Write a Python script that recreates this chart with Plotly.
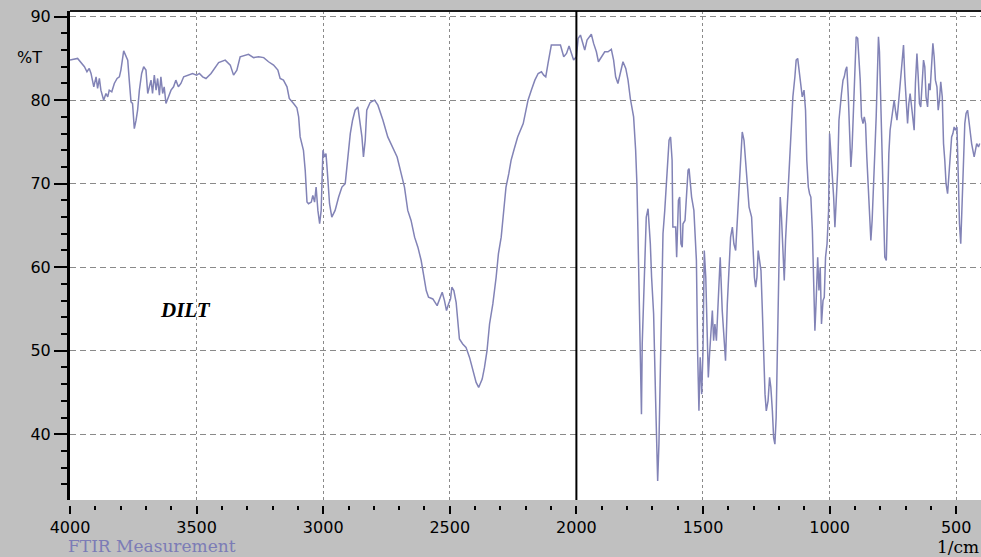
import plotly.graph_objects as go

# ---- Spectrum data (wavenumber, 1/cm ; transmittance, %T) ----
wn_a = [4000,3970,3943,3933,3924,3917,3906,3897,3891,3884,3878,3867,3858,3851,3845,3835,3825,3814,3805,3799,
        3788,3779,3772,3766,3759,3753,3746,3739,3733,3726,3717,3709,3700,3693,3687,3680,3674,3667,3660,3654,
        3647,3641,3634,3628,3621,3612,3601,3591,3582,3572,3562,3551,3536,3516,3500,3489,3476,3463,3443,3424]
t_a = [84.8,85.0,84.0,83.4,83.8,83.2,81.6,82.8,81.4,82.6,81.2,80.0,80.8,80.4,81.2,81.0,82.0,82.6,82.8,83.6,
       85.9,85.2,84.8,82.4,79.8,79.6,76.6,77.6,78.8,81.2,83.2,84.0,83.6,80.8,81.6,82.4,80.8,83.0,81.2,82.6,
       80.6,82.8,80.8,81.6,79.6,80.4,81.2,81.6,82.4,81.6,82.0,82.8,83.0,83.2,83.0,83.2,82.8,82.6,83.2,84.0]

wn_b = [3413,3387,3367,3354,3341,3328,3308,3295,3275,3255,3235,3216,3196,3179,3170,3157,3143,3134,3117,3104,
        3097,3091,3078,3071,3064,3058,3047,3041,3034,3028,3021,3014,3008,3001,2995,2989,2984,2975,2966,2953,
        2939,2926,2913,2904,2893,2884,2874,2863,2854,2847,2841,2834,2828,2815]
t_b = [84.5,84.8,84.2,83.0,83.6,85.2,85.4,85.5,85.1,85.2,85.1,84.6,84.2,83.6,82.6,82.4,81.6,80.2,79.6,79.1,
       78.0,75.6,74.0,71.6,67.8,67.6,67.8,68.6,67.8,69.6,66.8,65.2,66.8,74.0,73.2,73.6,71.6,67.6,66.0,66.8,
       68.4,69.6,70.0,72.8,76.0,77.6,78.8,79.2,76.8,75.6,73.2,75.2,78.8,79.7]

wn_c = [2810,2797,2784,2764,2745,2725,2708,2692,2679,2666,2653,2639,2626,2613,2603,2593,2584,2567,2550,2541,
        2530,2521,2513,2505,2497,2492,2484,2475,2468,2462,2449,2436,2422,2409,2396,2386,2372,2363,2353,2343,
        2330,2317,2308,2297,2287,2278,2267,2258,2247,2232]
t_c = [79.8,80.0,79.4,77.6,75.6,74.4,73.2,71.2,69.6,66.8,65.6,63.6,62.4,60.8,58.8,57.2,56.4,56.2,55.4,56.2,
       57.0,56.0,54.8,55.6,56.2,57.6,57.2,55.8,53.4,51.4,50.8,50.4,49.2,47.6,46.2,45.6,46.6,48.0,50.0,53.2,
       55.6,58.8,61.6,63.6,66.8,69.6,71.2,72.8,74.0,75.6]

wn_d = [2210,2200,2191,2178,2164,2151,2138,2129,2121,2112,2099,2079,2063,2050,2039,2029,2020,2011,2000,1993,
        1984,1976,1967,1958,1950,1941,1932,1921,1913,1901,1888,1875,1862,1853,1845,1836,1826,1816,1805,1796,
        1787,1774,1766,1761,1757,1753,1750,1747,1743,1740,1734,1729,1724,1717,1713,1708,1703,1695,1687,1682,
        1679,1674,1668,1663,1658,1651,1645,1638,1634,1628,1622,1619]
t_d = [77.2,78.8,80.0,81.2,82.4,83.2,83.4,83.0,82.8,84.4,86.6,86.6,86.6,85.2,85.6,86.5,85.6,84.8,85.2,87.4,
       87.8,86.8,86.0,87.2,87.6,87.9,86.8,85.8,84.6,85.2,85.8,85.8,86.1,84.8,82.8,82.0,83.2,84.6,83.8,82.4,
       80.2,78.0,74.0,70.0,64.4,58.0,52.0,44.8,42.4,50.8,56.8,62.8,66.0,67.0,65.2,62.8,58.8,54.4,44.0,38.8,
       34.4,38.8,47.6,57.4,64.0,66.8,69.6,73.2,75.2,75.6,72.8,64.8]

wn_e = [1608,1604,1597,1592,1587,1582,1579,1571,1564,1559,1555,1550,1545,1536,1526,1521,1516,1511,1505,1500,
        1495,1489,1484,1479,1474,1468,1463,1458,1453,1447,1442,1437,1432,1424,1416,1411,1404,1397,1391,1384,
        1378,1371,1364,1358,1351,1345,1338,1332,1325,1318,1308,1303,1297,1292,1287,1282,1276,1271,1266,1261,
        1255,1250,1243,1237,1232,1226,1221,1216,1211,1205,1200,1195,1190,1184,1179,1174,1166,1158,1153,1145,
        1137,1132,1126,1121,1115,1108,1101,1095,1090,1084,1079,1074,1068,1063,1058,1053,1047,1042,1037,1032,
        1026,1021,1016]
t_e = [64.8,61.2,68.0,68.4,62.8,62.4,65.2,65.6,70.0,71.6,71.8,69.6,68.4,66.8,60.8,49.6,42.8,49.2,44.8,50.0,
       62.0,58.8,51.6,46.8,49.6,52.4,54.8,51.2,53.2,51.2,55.2,59.2,61.2,54.8,50.8,48.8,55.6,60.8,63.6,64.8,
       62.8,62.0,66.0,69.6,72.4,76.2,75.2,72.8,69.6,67.2,66.0,62.4,58.8,57.6,58.8,62.0,60.8,59.6,55.2,48.8,
       44.8,42.8,44.0,46.8,45.6,42.8,39.6,38.8,42.0,52.0,63.6,68.4,66.0,61.2,58.4,63.2,68.4,72.8,76.0,80.4,
       82.8,84.8,85.0,83.6,81.6,80.4,81.2,78.8,72.8,69.6,68.8,68.4,64.4,56.4,52.4,56.0,61.2,57.2,60.0,53.2,
       56.0,56.4,61.2]

wn_f = [1010,1004,1000,995,989,984,979,974,968,963,958,953,947,942,937,932,926,921,916,911,
        905,900,895,889,884,879,874,868,863,858,853,847,842,837,832,826,821,816,811,807,
        803,797,792,787,782,776,771,766,761,755,750,745,740,734,729,724,718,713,708,703,
        697,692,687,682,676,671,666,661,655,650,645,640,634,629,624,619,613,608,603,597,
        592,587,582,576,571,566,561,555,550,545,540,534,529,524,518,513,508,503,497,492,
        487,482,476,471,466,461,455,450,445,439,434,429,424,419,412,407]
t_f = [62.8,66.8,76.0,74.0,71.6,68.4,64.8,67.6,71.6,77.6,79.6,80.8,82.4,82.8,83.6,84.0,80.4,74.8,72.0,74.4,
       78.8,84.4,87.6,87.4,84.8,82.4,78.0,77.2,78.0,77.2,73.2,68.8,66.0,63.2,65.6,69.2,74.0,78.0,84.8,87.6,
       85.8,78.0,74.0,67.2,61.2,60.8,69.2,73.6,76.4,77.6,79.2,80.0,78.8,77.6,79.2,80.8,82.8,84.4,86.6,82.8,
       79.6,77.2,79.6,80.8,79.2,78.0,76.4,82.0,85.6,82.8,79.6,79.2,82.4,84.8,84.0,80.4,79.2,82.0,81.2,85.2,
       86.8,85.2,82.4,81.6,78.8,80.0,82.2,80.4,74.8,72.8,70.0,68.8,71.2,72.4,75.6,76.0,76.8,76.4,76.8,71.2,
       65.2,62.8,67.6,71.2,77.2,78.4,78.8,77.6,76.0,74.8,74.0,73.2,74.0,74.8,74.4,74.8]

wavenumber = wn_a + wn_b + wn_c + wn_d + wn_e + wn_f
transmittance = t_a + t_b + t_c + t_d + t_e + t_f

sample_label = "DILT"
sample_pos = (3542, 54.9)

# ---- Figure ----
line_color = "#8283b6"
grid_color = "#8a8a8a"
tick_font = dict(family="DejaVu Sans", size=16, color="black")

fig = go.Figure()
fig.add_trace(go.Scatter(
    x=wavenumber, y=transmittance, mode="lines",
    line=dict(color=line_color, width=1.5),
    hoverinfo="skip",
))

fig.update_layout(
    width=981, height=557,
    paper_bgcolor="#c0c0c0",
    plot_bgcolor="white",
    margin=dict(l=70, r=0, t=11, b=52, autoexpand=False),
    showlegend=False,
    xaxis=dict(
        range=[4000, 402],
        tick0=0, dtick=500,
        ticks="outside", ticklen=8, tickwidth=2, tickcolor="black",
        showgrid=True, gridcolor=grid_color, gridwidth=1, griddash="3px,3px",
        showline=False, zeroline=False,
        anchor="free", position=0,
        automargin=False,
        tickfont=tick_font,
        minor=dict(dtick=100, tick0=0, ticks="outside", ticklen=4, tickwidth=2,
                   tickcolor="black", showgrid=False),
    ),
    yaxis=dict(
        range=[32.12, 90.68],
        domain=[0.0101, 1],
        tick0=0, dtick=10,
        ticks="outside", ticklen=13, tickwidth=1.5, tickcolor="black",
        showgrid=True, gridcolor=grid_color, gridwidth=1, griddash="6px,4px",
        showline=True, linecolor="black", linewidth=3,
        zeroline=False,
        automargin=False,
        tickfont=tick_font,
        minor=dict(dtick=2, tick0=0, ticks="outside", ticklen=6, tickwidth=1.5,
                   tickcolor="black", showgrid=False),
    ),
    shapes=[
        dict(type="line", xref="paper", yref="y domain", x0=0, x1=1, y0=1, y1=1,
             line=dict(color="#1a1a1a", width=2)),
        dict(type="line", xref="x", yref="y domain", x0=2000, x1=2000, y0=0, y1=1,
             line=dict(color="black", width=2)),
    ],
    annotations=[
        dict(text="%T", xref="paper", yref="paper", x=-0.044, y=0.905,
             xanchor="center", yanchor="middle", showarrow=False,
             font=dict(family="DejaVu Sans", size=16, color="black")),
        dict(text="FTIR Measurement", xref="paper", yref="paper", x=-0.004, y=-0.082,
             xanchor="left", yanchor="middle", showarrow=False,
             font=dict(family="DejaVu Serif", size=17, color="#7c7cb6")),
        dict(text="1/cm", xref="paper", yref="paper", x=1.0, y=-0.085,
             xanchor="right", yanchor="middle", showarrow=False,
             font=dict(family="DejaVu Serif", size=17, color="black")),
        dict(text=sample_label, xref="x", yref="y", x=sample_pos[0], y=sample_pos[1],
             xanchor="center", yanchor="middle", showarrow=False,
             font=dict(family="Liberation Serif", size=21, color="black",
                       weight="bold", style="italic")),
    ],
)

fig.write_html(
    "out.html",
    config={"displayModeBar": False},
    post_script="document.body.style.margin='0';document.body.style.overflow='hidden';",
)
